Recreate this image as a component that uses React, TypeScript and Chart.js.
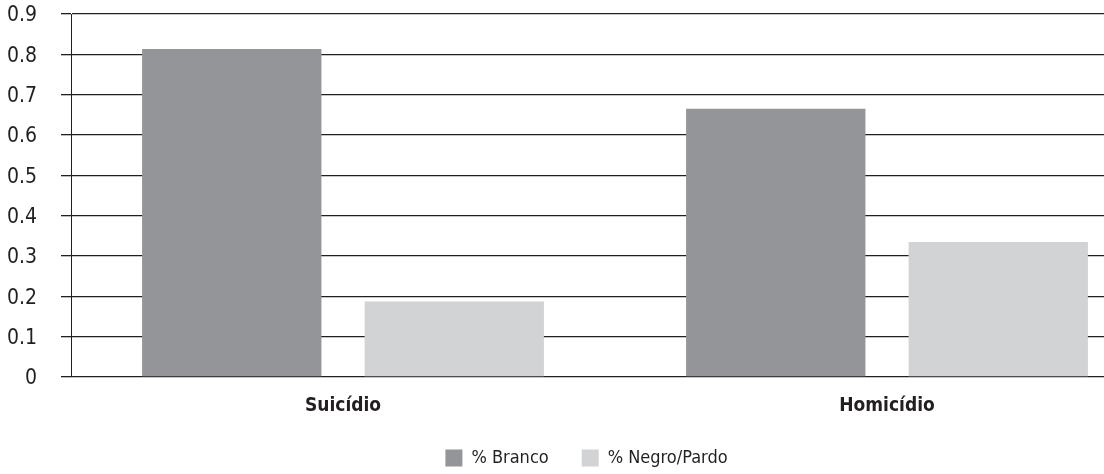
import React, { useEffect, useRef } from "react";
import { Chart, registerables } from "chart.js";

Chart.register(...registerables);

// Share of victims by race, per cause of death
const categories = ["Suicídio", "Homicídio"];
const branco = [0.813, 0.665];
const negroPardo = [0.187, 0.335];
const seriesNames = ["% Branco", "% Negro/Pardo"];
const yTickLabels = ["0", "0.1", "0.2", "0.3", "0.4", "0.5", "0.6", "0.7", "0.8", "0.9"];

const FONT = "'DejaVu Sans Condensed', 'DejaVu Sans', sans-serif";
const INK = "#231f20";
const LEGEND_DX = 7;

// Nudges the legend block sideways so it sits centred under the full canvas.
const legendNudge = {
  id: "legendNudge",
  afterLayout(chart: any) {
    const lg = chart.legend;
    if (lg) {
      lg.left += LEGEND_DX;
      lg.right += LEGEND_DX;
    }
  },
};

export default function App() {
  const canvasRef = useRef<HTMLCanvasElement | null>(null);

  useEffect(() => {
    const canvas = canvasRef.current;
    if (!canvas) return;
    const chart = new Chart(canvas, {
      type: "bar",
      data: {
        labels: categories,
        datasets: [
          {
            label: seriesNames[0],
            data: branco,
            backgroundColor: "#939598",
            borderWidth: 0,
          },
          {
            label: seriesNames[1],
            data: negroPardo,
            backgroundColor: "#d1d3d4",
            borderWidth: 0,
          },
        ],
      },
      plugins: [legendNudge],
      options: {
        responsive: false,
        animation: false,
        events: [],
        layout: { padding: { top: 0, right: 13, bottom: 0, left: 0 } },
        plugins: {
          tooltip: { enabled: false },
          legend: {
            position: "bottom",
            maxHeight: 58,
            labels: {
              boxWidth: 17,
              boxHeight: 17,
              padding: 33,
              color: INK,
              font: { family: FONT, size: 18 },
            },
          },
        },
        datasets: {
          bar: { categoryPercentage: 0.818, barPercentage: 0.806 },
        },
        scales: {
          x: {
            afterFit: (scale: any) => {
              scale.height = 39;
            },
            grid: { display: false },
            border: { display: false },
            ticks: {
              color: INK,
              padding: 10,
              font: { family: FONT, size: 19, weight: "bold" },
            },
          },
          y: {
            min: 0,
            max: 0.9,
            afterFit: (scale: any) => {
              scale.width = 71;
              scale.paddingTop = 14;
            },
            ticks: {
              stepSize: 0.1,
              padding: 24,
              labelOffset: 2,
              color: INK,
              font: { family: FONT, size: 21 },
              callback: (_v: any, i: number) => yTickLabels[i],
            },
            grid: {
              color: INK,
              lineWidth: 1.3,
              tickLength: 10,
              drawTicks: true,
            },
            border: { display: true, color: INK, width: 1 },
          },
        },
      },
    });
    return () => chart.destroy();
  }, []);

  return (
    <div
      style={{
        position: "fixed",
        left: 0,
        top: 0,
        width: 1104,
        height: 474,
        overflow: "hidden",
        background: "#fff",
      }}
    >
      <canvas ref={canvasRef} width={1172} height={474} style={{ display: "block" }} />
    </div>
  );
}
